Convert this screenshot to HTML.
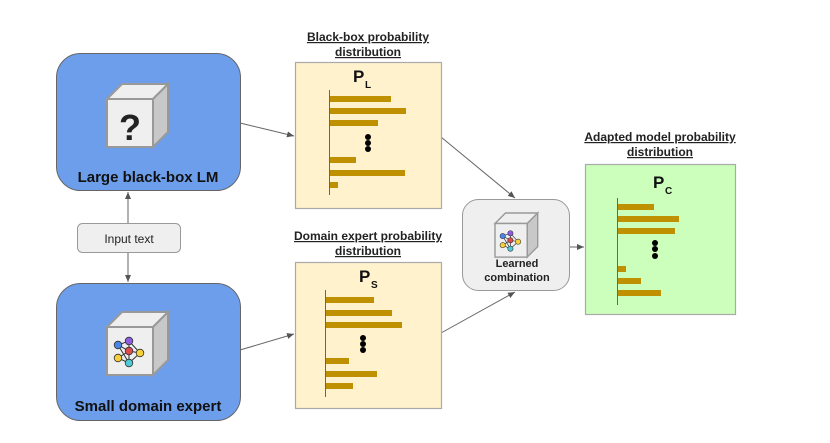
<!DOCTYPE html>
<html><head><meta charset="utf-8"><style>
html,body{margin:0;padding:0;background:#fff;}
svg{display:block;}
text{font-family:"Liberation Sans",Arial,sans-serif;}
</style></head><body>
<svg width="830" height="443" viewBox="0 0 830 443" xmlns="http://www.w3.org/2000/svg">
<defs>
<marker id="ah" markerWidth="8" markerHeight="8" refX="7" refY="3" orient="auto" markerUnits="userSpaceOnUse">
<path d="M0,0 L7,3 L0,6 z" fill="#555"/></marker>
<g id="cube">
<polygon points="0,15 15,0 61,0 46,15" fill="#efefef" stroke="#999" stroke-width="2"/>
<polygon points="46,15 61,0 61,48 46,63" fill="#c8c8c8" stroke="#999" stroke-width="2"/>
<rect x="0" y="15" width="46" height="48" fill="#efefef" stroke="#999" stroke-width="2"/>
</g>
<g id="net">
<g stroke="#333" stroke-width="1" fill="none">
<line x1="11" y1="33" x2="22" y2="29"/><line x1="11" y1="33" x2="22" y2="39"/><line x1="11" y1="33" x2="22" y2="51"/>
<line x1="22" y1="29" x2="22" y2="39"/><line x1="22" y1="29" x2="33" y2="41"/><line x1="22" y1="39" x2="33" y2="41"/>
<line x1="22" y1="39" x2="11" y2="46"/><line x1="22" y1="39" x2="22" y2="51"/><line x1="11" y1="46" x2="22" y2="51"/><line x1="33" y1="41" x2="22" y2="51"/>
</g>
<g stroke="#333" stroke-width="0.8">
<circle cx="11" cy="33" r="3.8" fill="#4a86e8"/><circle cx="22" cy="29" r="3.8" fill="#8e5ce0"/>
<circle cx="22" cy="39" r="3.8" fill="#e04a4a"/><circle cx="33" cy="41" r="3.8" fill="#f5d03b"/>
<circle cx="11" cy="46" r="3.8" fill="#f5d03b"/><circle cx="22" cy="51" r="3.8" fill="#4ec9d6"/>
</g>
</g>
</defs>

<!-- connectors -->
<g stroke="#666" stroke-width="1" fill="none" marker-end="url(#ah)">
<line x1="240" y1="123" x2="294" y2="136"/>
<line x1="240" y1="350" x2="294" y2="334"/>
<line x1="441" y1="137" x2="515" y2="198"/>
<line x1="441" y1="333" x2="515" y2="292"/>
<line x1="570" y1="247" x2="584" y2="247"/>
<line x1="128" y1="223" x2="128" y2="192"/>
<line x1="128" y1="252" x2="128" y2="282"/>
</g>

<!-- blue boxes -->
<rect x="56.5" y="53.5" width="184" height="137" rx="24" fill="#6d9eeb" stroke="#666" stroke-width="1"/>
<use href="#cube" x="107" y="84"/>
<text x="130" y="140" font-size="36" font-weight="bold" fill="#222" text-anchor="middle">?</text>
<text x="148" y="182" font-size="15" font-weight="bold" fill="#111" text-anchor="middle">Large black-box LM</text>

<rect x="56.5" y="283.5" width="184" height="137" rx="24" fill="#6d9eeb" stroke="#666" stroke-width="1"/>
<use href="#cube" x="107" y="312"/>
<use href="#net" x="107" y="312"/>
<text x="148" y="411" font-size="15" font-weight="bold" fill="#111" text-anchor="middle">Small domain expert</text>

<!-- input text -->
<rect x="77.5" y="223.5" width="103" height="29" rx="5" fill="#efefef" stroke="#999" stroke-width="1"/>
<text x="129" y="243" font-size="12" fill="#222" text-anchor="middle">Input text</text>

<!-- top yellow -->
<text x="368" y="41" font-size="12" font-weight="bold" fill="#222" text-anchor="middle" text-decoration="underline">Black-box probability</text>
<text x="368" y="56" font-size="12" font-weight="bold" fill="#222" text-anchor="middle" text-decoration="underline">distribution</text>
<rect x="295.5" y="62.5" width="146" height="146" fill="#fff2cc" stroke="#aaa" stroke-width="1.2"/>
<text x="353" y="82" font-size="17" font-weight="bold" fill="#111">P</text><text x="365" y="88" font-size="10" font-weight="bold" fill="#111">L</text>
<line x1="329.5" y1="90" x2="329.5" y2="195" stroke="#666" stroke-width="1"/>
<g fill="#bf9000">
<rect x="330" y="96" width="61" height="6"/><rect x="330" y="108" width="76" height="6"/><rect x="330" y="120" width="48" height="6"/>
<rect x="330" y="157" width="26" height="6"/><rect x="330" y="170" width="75" height="6"/><rect x="330" y="182" width="8" height="6"/>
</g>
<g fill="#000"><circle cx="368" cy="137" r="3"/><circle cx="368" cy="143" r="3"/><circle cx="368" cy="149" r="3"/></g>

<!-- bottom yellow -->
<text x="368" y="240" font-size="12" font-weight="bold" fill="#222" text-anchor="middle" text-decoration="underline">Domain expert probability</text>
<text x="368" y="255" font-size="12" font-weight="bold" fill="#222" text-anchor="middle" text-decoration="underline">distribution</text>
<rect x="295.5" y="262.5" width="146" height="146" fill="#fff2cc" stroke="#aaa" stroke-width="1.2"/>
<text x="359" y="282" font-size="17" font-weight="bold" fill="#111">P</text><text x="371" y="288" font-size="10" font-weight="bold" fill="#111">S</text>
<line x1="325.5" y1="290" x2="325.5" y2="397" stroke="#666" stroke-width="1"/>
<g fill="#bf9000">
<rect x="326" y="297" width="48" height="6"/><rect x="326" y="310" width="66" height="6"/><rect x="326" y="322" width="76" height="6"/>
<rect x="326" y="358" width="23" height="6"/><rect x="326" y="371" width="51" height="6"/><rect x="326" y="383" width="27" height="6"/>
</g>
<g fill="#000"><circle cx="363" cy="338" r="3"/><circle cx="363" cy="344" r="3"/><circle cx="363" cy="350" r="3"/></g>

<!-- learned combination -->
<rect x="462.5" y="199.5" width="107" height="91" rx="16" fill="#efefef" stroke="#999" stroke-width="1"/>
<g transform="translate(495,213) scale(0.7)"><use href="#cube"/><use href="#net"/></g>
<text x="517" y="267" font-size="11" font-weight="bold" fill="#222" text-anchor="middle">Learned</text>
<text x="517" y="281" font-size="11" font-weight="bold" fill="#222" text-anchor="middle">combination</text>

<!-- green -->
<text x="660" y="141" font-size="12" font-weight="bold" fill="#222" text-anchor="middle" text-decoration="underline">Adapted model probability</text>
<text x="660" y="156" font-size="12" font-weight="bold" fill="#222" text-anchor="middle" text-decoration="underline">distribution</text>
<rect x="585.5" y="164.5" width="150" height="150" fill="#ccffbb" stroke="#aaa" stroke-width="1.2"/>
<text x="653" y="188" font-size="17" font-weight="bold" fill="#111">P</text><text x="665" y="194" font-size="10" font-weight="bold" fill="#111">C</text>
<line x1="617.5" y1="198" x2="617.5" y2="305" stroke="#666" stroke-width="1"/>
<g fill="#bf9000">
<rect x="618" y="204" width="36" height="6"/><rect x="618" y="216" width="61" height="6"/><rect x="618" y="228" width="57" height="6"/>
<rect x="618" y="266" width="8" height="6"/><rect x="618" y="278" width="23" height="6"/><rect x="618" y="290" width="43" height="6"/>
</g>
<g fill="#000"><circle cx="655" cy="243" r="3"/><circle cx="655" cy="249" r="3"/><circle cx="655" cy="256" r="3"/></g>
</svg>
</body></html>
